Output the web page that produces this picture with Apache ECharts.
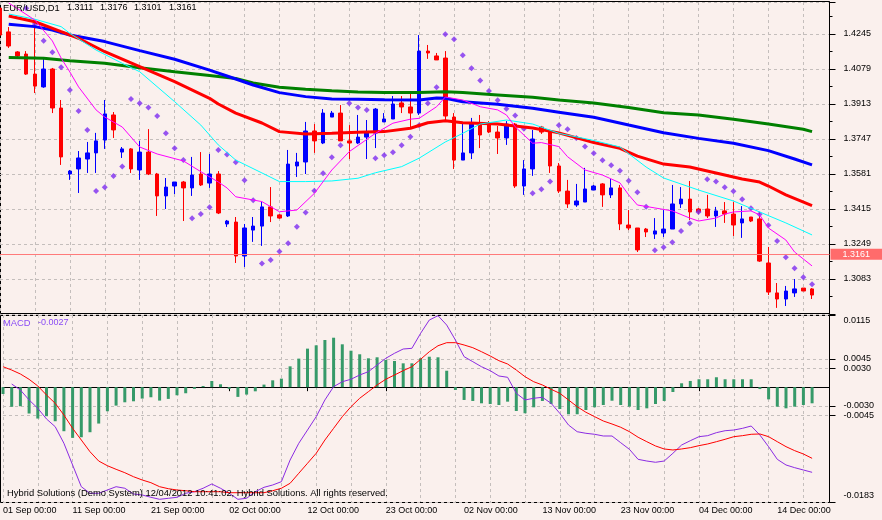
<!DOCTYPE html>
<html>
<head>
<meta charset="utf-8">
<title>EUR/USD D1</title>
<script src="https://cdn.jsdelivr.net/npm/echarts@6/dist/echarts.min.js"></script>
<style>
html, body { margin: 0; padding: 0; background: #faf0ed; }
#chart { width: 882px; height: 520px; }
</style>
</head>
<body>
<div id="chart"></div>
<script>
// daily bars (the server keeps a Sunday bar), two empty slots on the right
var days = [
  '01 Sep', '02 Sep', '04 Sep', '05 Sep', '06 Sep', '07 Sep', '08 Sep', '09 Sep', '11 Sep', '12 Sep',
  '13 Sep', '14 Sep', '15 Sep', '16 Sep', '18 Sep', '19 Sep', '20 Sep', '21 Sep', '22 Sep', '23 Sep',
  '25 Sep', '26 Sep', '27 Sep', '28 Sep', '29 Sep', '30 Sep', '02 Oct', '03 Oct', '04 Oct', '05 Oct',
  '06 Oct', '07 Oct', '09 Oct', '10 Oct', '11 Oct', '12 Oct', '13 Oct', '14 Oct', '16 Oct', '17 Oct',
  '18 Oct', '19 Oct', '20 Oct', '21 Oct', '23 Oct', '24 Oct', '25 Oct', '26 Oct', '27 Oct', '28 Oct',
  '30 Oct', '31 Oct', '01 Nov', '02 Nov', '03 Nov', '04 Nov', '06 Nov', '07 Nov', '08 Nov', '09 Nov',
  '10 Nov', '11 Nov', '13 Nov', '14 Nov', '15 Nov', '16 Nov', '17 Nov', '18 Nov', '20 Nov', '21 Nov',
  '22 Nov', '23 Nov', '24 Nov', '25 Nov', '27 Nov', '28 Nov', '29 Nov', '30 Nov', '01 Dec', '02 Dec',
  '04 Dec', '05 Dec', '06 Dec', '07 Dec', '08 Dec', '09 Dec', '11 Dec', '12 Dec', '13 Dec', '14 Dec',
  '15 Dec', '16 Dec', '18 Dec', '19 Dec', '20 Dec', '21 Dec'
];
var labelDays = [0, 8, 17, 26, 35, 44, 53, 62, 71, 80, 89];

var open = [
  1.4368, 1.4255, 1.4160, 1.4150, 1.4055, 1.3994, 1.4079, 1.3894, 1.3581, 1.3605,
  1.3652, 1.3681, 1.3742, 1.3861, 1.3685, 1.3700, 1.3600, 1.3685, 1.3581, 1.3477,
  1.3524, 1.3543, 1.3515, 1.3581, 1.3538, 1.3581, 1.3344, 1.3353, 1.3192, 1.3315,
  1.3334, 1.3425, 1.3387, 1.3382, 1.3619, 1.3638, 1.3785, 1.3728, 1.3851, 1.3870,
  1.3738, 1.3728, 1.3756, 1.3775, 1.3828, 1.3842, 1.3918, 1.3899, 1.3870, 1.4164,
  1.4141, 1.4131, 1.3851, 1.3647, 1.3681, 1.3818, 1.3818, 1.3780, 1.3752, 1.3818,
  1.3524, 1.3605, 1.3804, 1.3780, 1.3619, 1.3500, 1.3434, 1.3448, 1.3505, 1.3534,
  1.3482, 1.3515, 1.3339, 1.3325, 1.3320, 1.3296, 1.3301, 1.3320, 1.3439, 1.3462,
  1.3415, 1.3415, 1.3382, 1.3406, 1.3391, 1.3349, 1.3377, 1.3368, 1.3159, 1.3017,
  1.2988, 1.3017, 1.3040, 1.3036
];
var high = [
  1.4382, 1.4278, 1.4164, 1.4164, 1.4297, 1.4136, 1.4084, 1.3932, 1.3600, 1.3690,
  1.3733, 1.3776, 1.3932, 1.3875, 1.3709, 1.3704, 1.3738, 1.3794, 1.3586, 1.3562,
  1.3543, 1.3548, 1.3662, 1.3685, 1.3676, 1.3595, 1.3363, 1.3377, 1.3344, 1.3377,
  1.3448, 1.3519, 1.3391, 1.3695, 1.3681, 1.3828, 1.3818, 1.3889, 1.3880, 1.3908,
  1.3813, 1.3861, 1.3837, 1.3894, 1.3870, 1.3951, 1.3951, 1.3961, 1.4240, 1.4193,
  1.4155, 1.4164, 1.3870, 1.3823, 1.3847, 1.3861, 1.3832, 1.3809, 1.3832, 1.3823,
  1.3647, 1.3790, 1.3809, 1.3790, 1.3633, 1.3553, 1.3534, 1.3610, 1.3529, 1.3538,
  1.3557, 1.3529, 1.3410, 1.3325, 1.3325, 1.3372, 1.3410, 1.3529, 1.3519, 1.3548,
  1.3420, 1.3482, 1.3425, 1.3448, 1.3448, 1.3429, 1.3377, 1.3401, 1.3235, 1.3064,
  1.3050, 1.3083, 1.3040, 1.3040
];
var low = [
  1.4222, 1.4179, 1.4136, 1.4051, 1.3965, 1.3990, 1.3870, 1.3624, 1.3553, 1.3491,
  1.3586, 1.3586, 1.3700, 1.3752, 1.3657, 1.3586, 1.3553, 1.3576, 1.3382, 1.3415,
  1.3486, 1.3358, 1.3477, 1.3524, 1.3515, 1.3391, 1.3330, 1.3159, 1.3140, 1.3259,
  1.3240, 1.3353, 1.3368, 1.3377, 1.3567, 1.3581, 1.3681, 1.3723, 1.3851, 1.3738,
  1.3652, 1.3723, 1.3652, 1.3704, 1.3828, 1.3842, 1.3870, 1.3799, 1.3861, 1.4127,
  1.4122, 1.3828, 1.3605, 1.3647, 1.3652, 1.3704, 1.3775, 1.3676, 1.3719, 1.3515,
  1.3482, 1.3572, 1.3771, 1.3586, 1.3491, 1.3420, 1.3425, 1.3448, 1.3505, 1.3425,
  1.3467, 1.3315, 1.3315, 1.3211, 1.3282, 1.3273, 1.3282, 1.3320, 1.3420, 1.3363,
  1.3391, 1.3372, 1.3330, 1.3349, 1.3287, 1.3278, 1.3353, 1.3164, 1.3007, 1.2946,
  1.2955, 1.2998, 1.3026, 1.2988
];
var close = [
  1.4240, 1.4188, 1.4141, 1.4055, 1.3998, 1.4079, 1.3894, 1.3662, 1.3595, 1.3657,
  1.3681, 1.3738, 1.3866, 1.3790, 1.3700, 1.3605, 1.3685, 1.3581, 1.3477, 1.3519,
  1.3543, 1.3515, 1.3576, 1.3529, 1.3581, 1.3396, 1.3358, 1.3192, 1.3325, 1.3334,
  1.3425, 1.3382, 1.3372, 1.3628, 1.3638, 1.3785, 1.3738, 1.3870, 1.3870, 1.3738,
  1.3728, 1.3756, 1.3775, 1.3889, 1.3842, 1.3913, 1.3899, 1.3870, 1.4164, 1.4155,
  1.4122, 1.3856, 1.3647, 1.3681, 1.3818, 1.3766, 1.3780, 1.3752, 1.3818, 1.3524,
  1.3605, 1.3747, 1.3780, 1.3619, 1.3500, 1.3439, 1.3453, 1.3510, 1.3524, 1.3482,
  1.3515, 1.3344, 1.3325, 1.3221, 1.3306, 1.3311, 1.3320, 1.3439, 1.3462, 1.3401,
  1.3401, 1.3382, 1.3406, 1.3391, 1.3339, 1.3368, 1.3358, 1.3168, 1.3021, 1.2988,
  1.3026, 1.3036, 1.3026, 1.3007
];

// moving averages: [bar index, price]
var maGreen = [[1,1.4133],[5,1.4130],[8,1.4118],[12,1.4106],[16,1.4085],[20,1.4066],[24,1.4048],[27,1.4034],
  [29,1.4013],[32,1.3992],[35,1.3983],[38,1.3976],[41,1.3970],[44,1.3967],[48,1.3967],[51,1.3971],[53,1.3967],
  [57,1.3956],[61,1.3945],[64,1.3932],[68,1.3918],[72,1.3896],[76,1.3872],[80,1.3861],[84,1.3841],[88,1.3818],
  [92,1.3793],[93,1.3782]];
var maBlue = [[1,1.4291],[4,1.4280],[6,1.4264],[8,1.4240],[12,1.4209],[16,1.4166],[20,1.4125],[24,1.4074],
  [26,1.4046],[29,1.4003],[32,1.3967],[35,1.3948],[38,1.3937],[41,1.3935],[44,1.3933],[48,1.3932],[50,1.3942],
  [51,1.3940],[53,1.3924],[57,1.3912],[61,1.3893],[64,1.3874],[68,1.3850],[72,1.3813],[76,1.3777],[80,1.3750],
  [84,1.3727],[88,1.3692],[91,1.3652],[93,1.3624]];
var maRed = [[1,1.4330],[4,1.4303],[7,1.4256],[9,1.4225],[12,1.4161],[16,1.4090],[20,1.4019],[24,1.3940],
  [25,1.3913],[27,1.3870],[30,1.3823],[32,1.3782],[35,1.3771],[38,1.3774],[41,1.3779],[44,1.3782],[47,1.3798],
  [49,1.3824],[51,1.3834],[53,1.3824],[57,1.3818],[61,1.3799],[64,1.3776],[68,1.3730],[71,1.3703],[73,1.3666],
  [76,1.3628],[79,1.3614],[82,1.3586],[85,1.3557],[87,1.3543],[88,1.3524],[90,1.3482],[93,1.3431]];
var maCyan = [[1,1.4340],[4,1.4315],[7,1.4280],[8,1.4248],[11,1.4169],[14,1.4106],[16,1.4066],[20,1.3924],
  [23,1.3813],[25,1.3719],[27,1.3647],[30,1.3586],[32,1.3545],[35,1.3545],[38,1.3548],[41,1.3561],[43,1.3587],
  [46,1.3616],[48,1.3656],[51,1.3733],[53,1.3774],[55,1.3818],[58,1.3837],[61,1.3818],[64,1.3774],[68,1.3740],
  [71,1.3709],[74,1.3614],[76,1.3562],[80,1.3505],[84,1.3453],[87,1.3401],[90,1.3349],[93,1.3292]];
var maMagenta = [[1,1.4392],[4,1.4311],[6,1.4212],[7,1.4131],[8,1.4065],[9,1.3994],[11,1.3885],[12,1.3851],
  [14,1.3804],[16,1.3709],[18,1.3676],[21,1.3643],[23,1.3592],[25,1.3543],[26,1.3515],[27,1.3473],[30,1.3450],
  [32,1.3402],[34,1.3410],[36,1.3489],[38,1.3600],[40,1.3687],[43,1.3774],[45,1.3822],[47,1.3841],[48,1.3845],
  [50,1.3900],[51,1.3946],[53,1.3932],[55,1.3900],[57,1.3885],[58,1.3861],[59,1.3805],[61,1.3727],[62,1.3730],
  [64,1.3711],[65,1.3663],[67,1.3600],[69,1.3576],[71,1.3539],[72,1.3482],[73,1.3434],[75,1.3420],[77,1.3406],
  [79,1.3372],[80,1.3358],[82,1.3372],[83,1.3391],[84,1.3401],[86,1.3406],[87,1.3387],[88,1.3325],[90,1.3268],
  [91,1.3211],[93,1.3145]];

// parabolic SAR, one dot per bar (first three are above the window)
var sar = [
  null, null, null, 1.4367, 1.4292, 1.4213, 1.4158, 1.4087, 1.3979, 1.3880,
  1.3790, 1.3500, 1.3518, 1.3572, 1.3616, 1.3937, 1.3916, 1.3897, 1.3856, 1.3774,
  1.3703, 1.3647, 1.3371, 1.3391, 1.3423, 1.3695, 1.3674, 1.3637, 1.3551, 1.3456,
  1.3157, 1.3173, 1.3214, 1.3252, 1.3331, 1.3399, 1.3502, 1.3584, 1.3660, 1.3717,
  1.3916, 1.3897, 1.3885, 1.3656, 1.3670, 1.3684, 1.3717, 1.3758, 1.3812, 1.3916,
  1.3992, 1.4244, 1.4220, 1.4144, 1.4082, 1.4025, 1.3975, 1.3931, 1.3891, 1.3859,
  1.3796, 1.3490, 1.3509, 1.3545, 1.3812, 1.3793, 1.3752, 1.3711, 1.3679, 1.3646,
  1.3622, 1.3597, 1.3549, 1.3494, 1.3426, 1.3219, 1.3233, 1.3257, 1.3311, 1.3347,
  1.3401, 1.3556, 1.3545, 1.3518, 1.3499, 1.3461, 1.3418, 1.3390, 1.3338, 1.3263,
  1.3186, 1.3134, 1.3091, 1.3058
];

// MACD pane
var macdHist = [
  -0.00109, -0.00313, -0.00304, -0.00420, -0.00500, -0.00463, -0.00543, -0.00702, -0.00808, -0.00798,
  -0.00718, -0.00580, -0.00384, -0.00294, -0.00241, -0.00225, -0.00182, -0.00161, -0.00214, -0.00187,
  -0.00129, -0.00097, -0.00027, 0.00019, 0.00098, 0.00046, -0.00027, -0.00155, -0.00118, -0.00066,
  0.00041, 0.00109, 0.00136, 0.00332, 0.00455, 0.00614, 0.00667, 0.00752, 0.00788, 0.00683,
  0.00581, 0.00524, 0.00460, 0.00476, 0.00433, 0.00417, 0.00380, 0.00380, 0.00460, 0.00485,
  0.00476, 0.00262, -0.00045, -0.00204, -0.00220, -0.00257, -0.00268, -0.00284, -0.00231, -0.00380,
  -0.00416, -0.00321, -0.00220, -0.00268, -0.00348, -0.00432, -0.00432, -0.00364, -0.00321, -0.00284,
  -0.00216, -0.00284, -0.00311, -0.00364, -0.00337, -0.00268, -0.00220, -0.00077, 0.00062, 0.00099,
  0.00126, 0.00126, 0.00158, 0.00126, 0.00126, 0.00126, 0.00126, -0.00030, -0.00194, -0.00311,
  -0.00337, -0.00311, -0.00284, -0.00257
];
var macdMain = [
  null, 0.00050, -0.00045, -0.00204, -0.00337, -0.00507, -0.00630, -0.00894, -0.01240, -0.01586,
  -0.01691, -0.01691, -0.01639, -0.01586, -0.01611, -0.01702, -0.01718, -0.01755, -0.01787, -0.01771,
  -0.01755, -0.01691, -0.01666, -0.01611, -0.01543, -0.01611, -0.01691, -0.01787, -0.01771, -0.01666,
  -0.01596, -0.01559, -0.01506, -0.01161, -0.00894, -0.00683, -0.00470, -0.00204, 0.00008, 0.00087,
  0.00126, 0.00194, 0.00247, 0.00353, 0.00460, 0.00540, 0.00608, 0.00619, 0.00858, 0.01070,
  0.01139, 0.00990, 0.00752, 0.00486, 0.00406, 0.00326, 0.00263, 0.00178, 0.00157, -0.00098,
  -0.00204, -0.00177, -0.00161, -0.00257, -0.00417, -0.00603, -0.00710, -0.00735, -0.00751, -0.00778,
  -0.00778, -0.00885, -0.00990, -0.01150, -0.01177, -0.01197, -0.01177, -0.01054, -0.00922, -0.00853,
  -0.00789, -0.00773, -0.00725, -0.00694, -0.00683, -0.00656, -0.00619, -0.00763, -0.00949, -0.01150,
  -0.01240, -0.01283, -0.01320, -0.01357
];
var macdSignal = [
  0.00326, 0.00273, 0.00210, 0.00125, 0.00019, -0.00125, -0.00257, -0.00444, -0.00656, -0.00842,
  -0.01029, -0.01177, -0.01252, -0.01309, -0.01363, -0.01427, -0.01479, -0.01522, -0.01586, -0.01618,
  -0.01639, -0.01650, -0.01666, -0.01666, -0.01666, -0.01666, -0.01682, -0.01682, -0.01682, -0.01682,
  -0.01682, -0.01650, -0.01611, -0.01532, -0.01372, -0.01213, -0.01054, -0.00842, -0.00656, -0.00470,
  -0.00311, -0.00177, -0.00072, 0.00035, 0.00126, 0.00194, 0.00263, 0.00326, 0.00444, 0.00565,
  0.00660, 0.00709, 0.00709, 0.00672, 0.00629, 0.00565, 0.00497, 0.00422, 0.00369, 0.00273,
  0.00167, 0.00087, 0.00035, -0.00034, -0.00098, -0.00204, -0.00311, -0.00400, -0.00470, -0.00539,
  -0.00587, -0.00639, -0.00709, -0.00798, -0.00869, -0.00937, -0.00985, -0.01001, -0.00985, -0.00964,
  -0.00932, -0.00905, -0.00869, -0.00831, -0.00789, -0.00773, -0.00751, -0.00746, -0.00789, -0.00869,
  -0.00948, -0.01012, -0.01065, -0.01134
];
var macdTicks = [0.0115, 0.0045, 0.0030, -0.0030, -0.0045, -0.0183];

var header = ['EUR/USD,D1', '1.3111', '1.3176', '1.3101', '1.3161'];
var lastQuote = 1.3161;
var macdLabel = -0.0027;

var FONT = 'Liberation Sans';
var GRIDLINE = { color: '#c4bebc', type: [3, 3], width: 1 };
var axisFont = { color: '#000', fontFamily: FONT, fontSize: 9 };

var chart = echarts.init(document.getElementById('chart'));

var candles = open.map(function (o, i) {
  return [o, close[i], low[i], high[i]];
});
var every4 = function (i) { return i % 4 === 0; };
var isLabelDay = function (i) { return labelDays.indexOf(i) >= 0; };
var txt = function (x, y, s, color, size) {
  return {
    type: 'text', z: 100, silent: true,
    style: { x: x, y: y, text: s, fill: color, font: (size || 9) + 'px "' + FONT + '"', verticalAlign: 'middle' }
  };
};

var option = {
  backgroundColor: '#faf0ed',
  animation: false,
  grid: [
    { left: -0.4, right: 52.5, top: 2, height: 312 },
    { left: -0.4, right: 52.5, top: 315, height: 187 }
  ],
  xAxis: [
    {
      type: 'category', gridIndex: 0, data: days, boundaryGap: false,
      axisLine: { show: false }, axisTick: { show: false }, axisLabel: { show: false },
      splitLine: { show: true, interval: every4, lineStyle: GRIDLINE }
    },
    {
      type: 'category', gridIndex: 1, data: days, boundaryGap: false,
      axisLine: { show: true, lineStyle: { color: '#000' } },
      axisTick: { show: true, interval: isLabelDay, length: 4, lineStyle: { color: '#000' } },
      axisLabel: Object.assign({
        interval: isLabelDay, align: 'left', margin: 4,
        formatter: function (v) { return v + ' 00:00'; }
      }, axisFont),
      splitLine: { show: true, interval: every4, lineStyle: GRIDLINE }
    }
  ],
  yAxis: [
    {
      type: 'value', gridIndex: 0, position: 'right',
      min: 1.2917, max: 1.43968, interval: 0.0166,
      axisLine: { show: true, lineStyle: { color: '#000' } },
      axisTick: { show: true, length: 6, lineStyle: { color: '#000' } },
      minorTick: { show: true, splitNumber: 2, length: 3, lineStyle: { color: '#000' } },
      axisLabel: Object.assign({
        margin: 14, showMinLabel: false, showMaxLabel: false,
        formatter: function (v) { return v.toFixed(4); }
      }, axisFont),
      splitLine: { show: true, lineStyle: GRIDLINE }
    },
    {
      type: 'value', gridIndex: 1, position: 'right',
      min: -0.0183, max: 0.0115,
      axisLine: { show: true, lineStyle: { color: '#000' } },
      axisTick: { show: true, length: 6, customValues: macdTicks, lineStyle: { color: '#000' } },
      axisLabel: Object.assign({
        margin: 14, customValues: macdTicks,
        formatter: function (v) {
          var s = v.toFixed(4);
          if (v === macdTicks[0]) return '{top|' + s + '}';
          if (v === macdTicks[macdTicks.length - 1]) return '{bot|' + s + '}';
          return s;
        },
        rich: {
          top: Object.assign({ padding: [11, 0, 0, 0] }, axisFont),
          bot: Object.assign({ padding: [0, 0, 13, 0] }, axisFont)
        }
      }, axisFont),
      splitLine: { show: true, lineStyle: GRIDLINE }
    }
  ],
  series: [
    {
      name: 'EUR/USD', type: 'candlestick', xAxisIndex: 0, yAxisIndex: 0,
      data: candles, barWidth: 4,
      itemStyle: {
        color: '#0000ff', color0: '#ff0000',
        borderColor: '#0000ff', borderColor0: '#ff0000', borderWidth: 1
      },
      markLine: {
        silent: true, symbol: ['none', 'none'],
        lineStyle: { color: '#ff7a7a', width: 1, type: 'solid' },
        label: {
          position: 'end', distance: 1, color: '#fff', backgroundColor: '#ff6b6b',
          padding: [1, 13, 1, 12], fontFamily: FONT, fontSize: 9,
          formatter: function () { return lastQuote.toFixed(4); }
        },
        data: [{ yAxis: lastQuote }]
      }
    },
    { type: 'line', xAxisIndex: 0, yAxisIndex: 0, data: maGreen, showSymbol: false, symbol: 'none',
      lineStyle: { color: '#008000', width: 3 } },
    { type: 'line', xAxisIndex: 0, yAxisIndex: 0, data: maBlue, showSymbol: false, symbol: 'none',
      lineStyle: { color: '#0000ff', width: 3 } },
    { type: 'line', xAxisIndex: 0, yAxisIndex: 0, data: maRed, showSymbol: false, symbol: 'none',
      lineStyle: { color: '#ff0000', width: 3 } },
    { type: 'line', xAxisIndex: 0, yAxisIndex: 0, data: maCyan, showSymbol: false, symbol: 'none',
      lineStyle: { color: '#00ffff', width: 1 } },
    { type: 'line', xAxisIndex: 0, yAxisIndex: 0, data: maMagenta, showSymbol: false, symbol: 'none',
      lineStyle: { color: '#ff00ff', width: 1 } },
    { type: 'scatter', xAxisIndex: 0, yAxisIndex: 0, data: sar, symbol: 'diamond', symbolSize: 6,
      itemStyle: { color: '#7d2cf0' } },
    { type: 'bar', xAxisIndex: 1, yAxisIndex: 1, data: macdHist, barWidth: 3,
      itemStyle: { color: '#369a69' } },
    { type: 'line', xAxisIndex: 1, yAxisIndex: 1, data: macdMain, showSymbol: false, symbol: 'none',
      lineStyle: { color: '#8a2be2', width: 1 } },
    { type: 'line', xAxisIndex: 1, yAxisIndex: 1, data: macdSignal, showSymbol: false, symbol: 'none',
      lineStyle: { color: '#ff0000', width: 1 } }
  ],
  graphic: [
    { type: 'rect', silent: true, shape: { x: 0.5, y: 1.5, width: 829, height: 312 },
      style: { fill: 'none', stroke: '#000', lineWidth: 1 } },
    { type: 'rect', silent: true, shape: { x: 0.5, y: 315.5, width: 829, height: 187 },
      style: { fill: 'none', stroke: '#000', lineWidth: 1 } },
    txt(3, 8, header[0], '#000', 9.4),
    txt(67, 8, header[1], '#000'),
    txt(100, 8, header[2], '#000'),
    txt(134, 8, header[3], '#000'),
    txt(169, 8, header[4], '#000'),
    txt(3, 323, 'MACD', '#8a4cf5', 9.4),
    txt(38, 323, macdLabel.toFixed(4), '#8a4cf5'),
    txt(7, 493, 'Hybrid Solutions (Demo System) 12/04/2012 10:41:02, Hybrid Solutions. All rights reserved.', '#000', 9.4)
  ]
};

chart.setOption(option);
</script>
</body>
</html>
